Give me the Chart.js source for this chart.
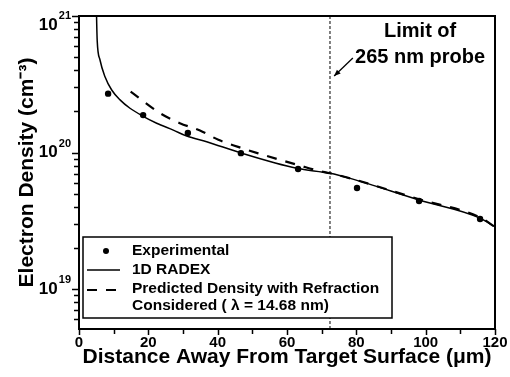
<!DOCTYPE html>
<html>
<head>
<meta charset="utf-8">
<script src="https://cdn.jsdelivr.net/npm/chart.js@4.4.0/dist/chart.umd.min.js"></script>
<style>
  html, body { margin: 0; padding: 0; background: #fff; }
</style>
</head>
<body>
<canvas id="densityChart" width="510" height="377"></canvas>
<script>
// Experimental points
var expX = [8.4, 18.5, 31.4, 46.7, 63.2, 80.2, 98.1, 115.7];
var expY = [2.70e20, 1.88e20, 1.39e20, 9.9e19, 7.57e19, 5.50e19, 4.42e19, 3.26e19];

// 1D RADEX simulation (solid)
var radexX = [5.0, 5.1, 5.25, 6.06, 7.5, 9.43, 11.83, 14.71, 18.37, 22.41, 27.2, 31.06, 36.83, 46.4, 62.8, 72.4, 78.2, 98.1, 115.7, 120];
var radexY = [1.2e21, 9e20, 6.6e20, 4.76e20, 3.59e20, 2.87e20, 2.43e20, 2.11e20, 1.85e20, 1.64e20, 1.46e20, 1.32e20, 1.20e20, 9.98e19, 7.66e19, 7.05e19, 6.47e19, 4.49e19, 3.31e19, 2.85e19];

// Predicted density with refraction (dashed)
var refrX = [14.9, 23.4, 29.1, 34.9, 40.2, 45.9, 51.7, 57.5, 63.3, 69.0, 72.4, 78.2, 98.1, 115.7, 120];
var refrY = [2.79e20, 1.94e20, 1.64e20, 1.45e20, 1.24e20, 1.10e20, 9.86e19, 8.91e19, 8.09e19, 7.36e19, 7.05e19, 6.47e19, 4.55e19, 3.35e19, 2.85e19];

// limit of the 265 nm probe
var probeLimitX = 72.4;
var yRange = [5.1e18, 1e21];
var xRange = [0, 120];
var yDecades = [19, 20, 21];
var xTickValues = [0, 10, 20, 30, 40, 50, 60, 70, 80, 90, 100, 110, 120];

// annotation anchors (data units)
var noteX = 98.4;
var noteY = [7.64e20, 5.0e20];
var noteLines = ['Limit of', '265 nm probe'];
var arrowFrom = [79.0, 4.92e20];
var arrowTo = [73.6, 3.63e20];

var legendItems = [
    'Experimental',
    '1D RADEX',
    'Predicted Density with Refraction',
    'Considered ( \u03bb = 14.68 nm)'
];

var FONT = '"Liberation Sans", Arial, sans-serif';

function pts(xs, ys) {
    return xs.map((x, i) => ({ x: x, y: ys[i] }));
}

// log minor ticks 1..9 x 10^n inside the range
var yTickValues = [];
for (let e = 18; e <= 20; e++) {
    for (let m = 1; m <= 9; m++) {
        var v = m * Math.pow(10, e);
        if (v >= yRange[0] && v <= yRange[1]) yTickValues.push(v);
    }
}
yTickValues.push(1e21);

var decor = {
    id: 'decor',
    afterDraw(chart) {
        var ctx = chart.ctx, a = chart.chartArea;
        var xs = chart.scales.x, ys = chart.scales.y;
        ctx.save();

        // frame
        ctx.strokeStyle = '#000';
        ctx.lineWidth = 2;
        ctx.strokeRect(a.left, a.top, a.right - a.left, a.bottom - a.top);

        // tick marks (outside the frame)
        ctx.strokeStyle = '#000';
        ctx.lineWidth = 1.5;
        ctx.beginPath();
        xTickValues.forEach(v => {
            var px = Math.round(xs.getPixelForValue(v)) + 0.5;
            var len = v % 20 === 0 ? 6 : 5;
            ctx.moveTo(px, a.bottom);
            ctx.lineTo(px, a.bottom + len);
        });
        yTickValues.forEach(v => {
            var py = Math.round(ys.getPixelForValue(v)) + 0.5;
            var e = Math.log10(v);
            var len = Math.abs(e - Math.round(e)) < 1e-9 ? 7 : 5;
            ctx.moveTo(a.left, py);
            ctx.lineTo(a.left - len, py);
        });
        ctx.stroke();

        // y tick labels 10^n
        ctx.fillStyle = '#000';
        ctx.textBaseline = 'middle';
        ctx.textAlign = 'right';
        yDecades.forEach(e => {
            var py = Math.max(ys.getPixelForValue(Math.pow(10, e)), a.top + 9);
            ctx.font = 'bold 11px ' + FONT;
            var ew = ctx.measureText(String(e)).width;
            ctx.fillText(String(e), 71, py - 9);
            ctx.font = 'bold 17px ' + FONT;
            ctx.fillText('10', 71 - ew - 1, py);
        });

        // annotation
        ctx.textAlign = 'center';
        ctx.font = 'bold 20px ' + FONT;
        noteLines.forEach((t, i) => {
            ctx.fillText(t, xs.getPixelForValue(noteX), ys.getPixelForValue(noteY[i]));
        });
        var x0 = xs.getPixelForValue(arrowFrom[0]), y0 = ys.getPixelForValue(arrowFrom[1]);
        var x1 = xs.getPixelForValue(arrowTo[0]), y1 = ys.getPixelForValue(arrowTo[1]);
        ctx.lineWidth = 1.3;
        ctx.beginPath();
        ctx.moveTo(x0, y0);
        ctx.lineTo(x1, y1);
        ctx.stroke();
        var ang = Math.atan2(y1 - y0, x1 - x0);
        ctx.beginPath();
        ctx.moveTo(x1, y1);
        ctx.lineTo(x1 - 7 * Math.cos(ang - 0.4), y1 - 7 * Math.sin(ang - 0.4));
        ctx.lineTo(x1 - 7 * Math.cos(ang + 0.4), y1 - 7 * Math.sin(ang + 0.4));
        ctx.closePath();
        ctx.fill();

        // legend box
        var lx = a.left + 4, ly = 237, lw = 392 - lx, lh = 318 - ly;
        ctx.fillStyle = '#fff';
        ctx.fillRect(lx, ly, lw, lh);
        ctx.strokeStyle = '#000';
        ctx.lineWidth = 1.5;
        ctx.strokeRect(lx, ly, lw, lh);

        ctx.fillStyle = '#000';
        ctx.beginPath();
        ctx.arc(106, 251, 3, 0, Math.PI * 2);
        ctx.fill();

        ctx.lineWidth = 1.5;
        ctx.beginPath();
        ctx.moveTo(87, 270);
        ctx.lineTo(120, 270);
        ctx.stroke();

        ctx.lineWidth = 2;
        ctx.beginPath();
        ctx.moveTo(87, 290); ctx.lineTo(97, 290);
        ctx.moveTo(106, 290); ctx.lineTo(116, 290);
        ctx.stroke();

        ctx.textAlign = 'left';
        ctx.font = 'bold 15.5px ' + FONT;
        var rows = [251, 270, 289, 306];
        legendItems.forEach((t, i) => ctx.fillText(t, 132, rows[i]));

        ctx.restore();
    }
};

var hiddenGrid = { display: false, drawTicks: true, tickLength: 5 };

var ctx = document.getElementById('densityChart');
var chart = new Chart(ctx, {
    type: 'scatter',
    data: {
        datasets: [
            {
                label: 'Experimental',
                data: pts(expX, expY),
                showLine: false,
                pointRadius: 3.2,
                pointBackgroundColor: '#000',
                pointBorderWidth: 0
            },
            {
                label: '1D RADEX',
                data: pts(radexX, radexY),
                showLine: true,
                borderColor: '#000',
                borderWidth: 1.5,
                pointRadius: 0,
                cubicInterpolationMode: 'monotone'
            },
            {
                label: 'Predicted Density with Refraction Considered',
                data: pts(refrX, refrY),
                showLine: true,
                borderColor: '#000',
                borderWidth: 2.2,
                borderDash: [10, 9],
                pointRadius: 0,
                cubicInterpolationMode: 'monotone'
            },
            {
                label: 'probe limit',
                data: pts([probeLimitX, probeLimitX], yRange),
                showLine: true,
                borderColor: '#000',
                borderWidth: 1,
                borderDash: [3, 2],
                pointRadius: 0
            }
        ]
    },
    options: {
        responsive: false,
        animation: false,
        devicePixelRatio: 1,
        layout: { padding: { left: 0, top: 16, right: 15, bottom: 0 } },
        scales: {
            x: {
                type: 'linear',
                min: xRange[0],
                max: xRange[1],
                afterFit: s => { s.height = 48; },
                ticks: {
                    stepSize: 10,
                    autoSkip: false,
                    maxRotation: 0,
                    padding: 0,
                    color: '#000',
                    font: { family: FONT, size: 15, weight: 'bold' },
                    callback: v => (v % 20 === 0 ? v : '')
                },
                grid: hiddenGrid,
                border: { color: '#000', width: 2 },
                title: {
                    display: true,
                    text: 'Distance Away From Target Surface (\u03bcm)',
                    color: '#000',
                    font: { family: FONT, size: 21, weight: 'bold' },
                    padding: { top: 0, bottom: 7 }
                }
            },
            y: {
                type: 'logarithmic',
                min: yRange[0],
                max: yRange[1],
                afterFit: s => { s.width = 79; },
                afterBuildTicks: s => { s.ticks = yTickValues.map(v => ({ value: v })); },
                ticks: {
                    autoSkip: false,
                    callback: () => ''
                },
                grid: hiddenGrid,
                border: { color: '#000', width: 2 },
                title: {
                    display: true,
                    text: 'Electron Density (cm\u207b\u00b3)',
                    color: '#000',
                    font: { family: FONT, size: 21, weight: 'bold' },
                    padding: { top: 15, bottom: 0 }
                }
            }
        },
        plugins: {
            legend: { display: false },
            tooltip: { enabled: false }
        }
    },
    plugins: [decor]
});
</script>
</body>
</html>
